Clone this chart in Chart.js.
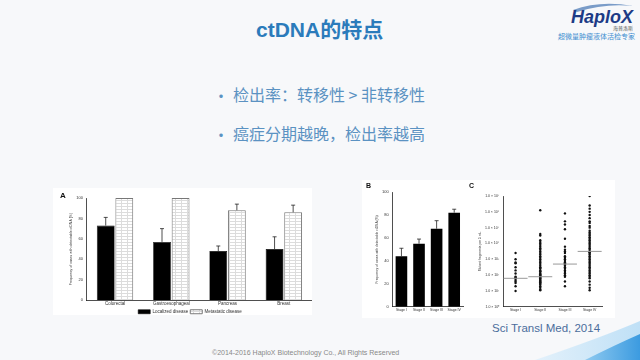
<!DOCTYPE html>
<html>
<head>
<meta charset="utf-8">
<script src="https://cdn.jsdelivr.net/npm/chart.js@4.4.1/dist/chart.umd.min.js"></script>
<style>
  body { margin: 0; width: 640px; height: 360px; overflow: hidden; background: #f7f8fa;
         font-family: "Liberation Sans", Arial, "Noto Sans CJK SC", sans-serif; position: relative; }
  .abs { position: absolute; }
  .panel { position: absolute; background: #fff; }
  canvas { position: absolute; }
</style>
</head>
<body>

<div class="abs" style="left:256px;top:13px;font-size:21px;font-weight:bold;color:#2b7bbb;font-family:'Liberation Sans','Noto Sans CJK SC';">ctDNA的特点</div>

<svg class="abs" style="left:555px;top:0" width="85" height="45">
  <path d="M18 10 Q45 0 78 6 Q50 3 22 12 Z" fill="#7a9cc8"/>
  <text x="78" y="23" text-anchor="end" font-family="Liberation Sans" font-weight="bold" font-style="italic" font-size="18" fill="#1d3b86">HaploX</text>
  <text x="78" y="30" text-anchor="end" font-family="Noto Sans CJK SC" font-size="5" fill="#555">海普洛斯</text>
  <text x="80" y="39" text-anchor="end" font-family="Noto Sans CJK SC" font-size="7" fill="#3f8ed0">超微量肿瘤液体活检专家</text>
</svg>

<div class="abs" style="left:213px;top:85px;font-size:16px;color:#5b92c2;font-family:'Noto Sans CJK SC';line-height:20px;">•</div>
<div class="abs" style="left:233px;top:84px;font-size:16px;color:#5b92c2;font-family:'Noto Sans CJK SC';line-height:20px;">检出率：转移性 &gt; 非转移性</div>
<div class="abs" style="left:213px;top:124px;font-size:16px;color:#5b92c2;font-family:'Noto Sans CJK SC';line-height:20px;">•</div>
<div class="abs" style="left:233px;top:123px;font-size:16px;color:#5b92c2;font-family:'Noto Sans CJK SC';line-height:20px;">癌症分期越晚，检出率越高</div>

<div class="panel" style="left:53px;top:188px;width:259px;height:127px;"></div>
<div class="panel" style="left:362px;top:180px;width:253px;height:138px;"></div>

<canvas id="chartA" width="259" height="127" style="left:53px;top:188px;"></canvas>
<canvas id="chartB" width="106" height="138" style="left:362px;top:180px;"></canvas>
<canvas id="chartC" width="147" height="138" style="left:468px;top:180px;"></canvas>

<div class="abs" style="left:60px;top:191px;font-size:8px;font-weight:bold;color:#111;">A</div>
<div class="abs" style="left:366px;top:182px;font-size:7px;font-weight:bold;color:#111;">B</div>
<div class="abs" style="left:469px;top:182px;font-size:7px;font-weight:bold;color:#111;">C</div>

<div class="abs" style="left:492px;top:322px;font-size:11.5px;color:#4b6d9c;">Sci Transl Med, 2014</div>
<div class="abs" style="left:212px;top:349px;font-size:7px;color:#888;">©2014-2016 HaploX Biotechnology Co., All Rights Reserved</div>

<svg class="abs" style="left:0;top:0" width="640" height="360">
  <defs>
    <linearGradient id="sw" x1="0" y1="0" x2="1" y2="0">
      <stop offset="0" stop-color="#e3f1fb"/>
      <stop offset="1" stop-color="#bfe0f6"/>
    </linearGradient>
    <linearGradient id="sw2" x1="0" y1="0" x2="1" y2="0">
      <stop offset="0" stop-color="#8fcaf0"/>
      <stop offset="1" stop-color="#3c9be0"/>
    </linearGradient>
  </defs>
  <path d="M535 360 Q600 338 640 321 L640 360 Z" fill="url(#sw)"/>
  <path d="M585 360 Q615 345 640 334 L640 360 Z" fill="url(#sw2)"/>
</svg>

<script>
// Panel A: detection by tumour type
var tumourTypes = ["Colorectal", "Gastroesophageal", "Pancreas", "Breast"];
var localized = [73, 57, 48, 50];
var localizedErr = [8, 13, 5, 12];
var metastatic = [100, 100, 88, 86];
var metastaticErr = [0, 0, 6, 7];

// Panel B: detection by stage
var stages = ["Stage I", "Stage II", "Stage III", "Stage IV"];
var stageDetect = [44, 55, 68, 82];
var stageErr = [7, 4, 7, 3];

// Panel C: mutant fragments (log10) per stage
var stageI = [3.4, 3.0, 2.8, 2.75, 2.5, 2.3, 2.1, 1.9, 1.85, 1.8, 1.7, 1.6, 1.5, 1.3, 1.0];
var stageII = [6.1, 4.6, 4.5, 4.2, 4.1, 4.0, 3.9, 3.8, 3.7, 3.6, 3.5, 3.4, 3.3, 3.2, 3.1, 3.0, 2.9, 2.8,
  2.7, 2.6, 2.5, 2.45, 2.4, 2.3, 2.25, 2.2, 2.1, 2.05, 2.0, 1.95, 1.9, 1.85, 1.8, 1.75, 1.7, 1.65, 1.6,
  1.55, 1.5, 1.45, 1.4, 1.3, 1.2, 1.1, 1.05];
var stageIII = [5.9, 5.4, 5.2, 4.9, 4.3, 3.8, 3.6, 3.5, 3.4, 3.2, 3.1, 3.0, 2.9, 2.8, 2.75, 2.7, 2.65,
  2.6, 2.5, 2.4, 2.3, 2.2, 2.1, 2.0, 1.9, 1.6, 1.3];
var stageIV = [7.0, 6.4, 6.2, 6.0, 5.8, 5.6, 5.4, 5.3, 5.1, 5.0, 4.8, 4.7, 4.6, 4.5, 4.4, 4.3, 4.2, 4.1,
  4.0, 3.9, 3.8, 3.7, 3.6, 3.5, 3.45, 3.4, 3.3, 3.2, 3.1, 3.0, 2.9, 2.8, 2.7, 2.6, 2.5, 2.4, 2.3, 2.2,
  2.1, 2.0, 1.9, 1.8, 1.6, 1.4, 1.2, 1.05];
var medians = [1.8, 1.9, 2.7, 3.5];
var logTicks = [0, 1, 2, 3, 4, 5, 6, 7];

Chart.defaults.font.family = "Liberation Sans";
Chart.defaults.color = "#333";
Chart.defaults.animation = false;

function hatch() {
  var c = document.createElement("canvas");
  c.width = 6; c.height = 3;
  var g = c.getContext("2d");
  g.fillStyle = "#fff"; g.fillRect(0, 0, 6, 3);
  g.fillStyle = "#dcdcdc"; g.fillRect(0, 0, 6, 1);
  g.fillRect(2, 0, 1, 3);
  return g.createPattern(c, "repeat");
}

var errorBars = {
  id: "errorBars",
  afterDatasetsDraw: function (chart) {
    var ctx = chart.ctx, y = chart.scales.y;
    chart.data.datasets.forEach(function (ds, i) {
      if (!ds.err) return;
      var meta = chart.getDatasetMeta(i);
      meta.data.forEach(function (bar, j) {
        if (!ds.err[j]) return;
        var top = y.getPixelForValue(ds.data[j] + ds.err[j]);
        ctx.save();
        ctx.strokeStyle = "#222"; ctx.lineWidth = 0.8;
        ctx.beginPath();
        ctx.moveTo(bar.x, bar.y); ctx.lineTo(bar.x, top);
        ctx.moveTo(bar.x - 2, top); ctx.lineTo(bar.x + 2, top);
        ctx.stroke();
        ctx.restore();
      });
    });
  }
};

var tinyAxis = function (max, title, titleSize) {
  return {
    min: 0, max: max,
    ticks: { stepSize: 20, font: { size: 4 }, padding: 2 },
    grid: { display: false, drawTicks: true, tickLength: 2, color: "#222" },
    border: { color: "#222", width: 0.8 },
    title: { display: true, text: title, font: { size: titleSize }, padding: 1 }
  };
};

var flatX = function (size) {
  return {
    grid: { display: false, drawTicks: false, tickLength: 0 },
    border: { color: "#222", width: 0.8 },
    ticks: { font: { size: size }, padding: 1, maxRotation: 0, autoSkip: false }
  };
};

new Chart(document.getElementById("chartA"), {
  type: "bar",
  data: {
    labels: tumourTypes,
    datasets: [
      { label: "Localized disease", data: localized, err: localizedErr,
        backgroundColor: "#000", borderColor: "#000", borderWidth: 0.6 },
      { label: "Metastatic disease", data: metastatic, err: metastaticErr,
        backgroundColor: hatch(), borderColor: "#777", borderWidth: 1 }
    ]
  },
  options: {
    responsive: false,
    layout: { padding: { left: 15, right: 0, top: 10, bottom: -9 } },
    categoryPercentage: 0.66, barPercentage: 0.96,
    plugins: {
      legend: { position: "bottom", labels: { boxWidth: 12, boxHeight: 4, font: { size: 4.5 }, padding: 2 } },
      tooltip: { enabled: false }
    },
    scales: {
      x: flatX(4.5),
      y: tinyAxis(100, "Frequency of cases with detectable ctDNA (%)", 3.5)
    }
  },
  plugins: [errorBars]
});

new Chart(document.getElementById("chartB"), {
  type: "bar",
  data: {
    labels: stages,
    datasets: [{ label: "Detection", data: stageDetect, err: stageErr, backgroundColor: "#000" }]
  },
  options: {
    responsive: false,
    layout: { padding: { left: 12, right: 5, top: 12, bottom: 5 } },
    categoryPercentage: 0.66, barPercentage: 1,
    plugins: { legend: { display: false }, tooltip: { enabled: false } },
    scales: {
      x: flatX(3.5),
      y: tinyAxis(100, "Frequency of cases with detectable ctDNA (%)", 3.3)
    }
  },
  plugins: [errorBars]
});

var sup = "⁰¹²³⁴⁵⁶⁷⁸⁹";
var stageSets = [stageI, stageII, stageIII, stageIV];
var medianLines = {
  id: "medianLines",
  afterDatasetsDraw: function (chart) {
    var ctx = chart.ctx, x = chart.scales.x, y = chart.scales.y;
    medians.forEach(function (m, i) {
      var px = x.getPixelForValue(i), py = y.getPixelForValue(Math.pow(10, m));
      ctx.save();
      ctx.strokeStyle = "#999"; ctx.lineWidth = 1;
      ctx.beginPath(); ctx.moveTo(px - 12, py); ctx.lineTo(px + 12, py); ctx.stroke();
      ctx.restore();
    });
  }
};

new Chart(document.getElementById("chartC"), {
  type: "scatter",
  data: {
    labels: stages,
    datasets: stageSets.map(function (vals, i) {
      return {
        label: stages[i],
        data: vals.map(function (v) { return { x: stages[i], y: Math.pow(10, v) }; }),
        pointRadius: 1.2, pointBackgroundColor: "#111", pointBorderWidth: 0
      };
    })
  },
  options: {
    responsive: false,
    layout: { padding: { left: 9, right: 13, top: 16, bottom: 5 } },
    plugins: { legend: { display: false }, tooltip: { enabled: false } },
    scales: {
      x: Object.assign(flatX(3.5), { type: "category", labels: stages, offset: true }),
      y: { type: "logarithmic", min: 1, max: 1e7,
           afterBuildTicks: function (ax) { ax.ticks = logTicks.map(function (p) { return { value: Math.pow(10, p) }; }); },
           ticks: { font: { size: 3.5 }, padding: 2,
             callback: function (v) { var p = Math.round(Math.log10(v)); return "1.0 × 10" + sup[p]; } },
           grid: { display: false, drawTicks: true, tickLength: 2, color: "#222" },
           border: { color: "#222", width: 0.8 },
           title: { display: true, text: "Mutant fragments per 5 mL", font: { size: 3.3 }, padding: 1 } }
    }
  },
  plugins: [medianLines]
});
</script>
</body>
</html>
